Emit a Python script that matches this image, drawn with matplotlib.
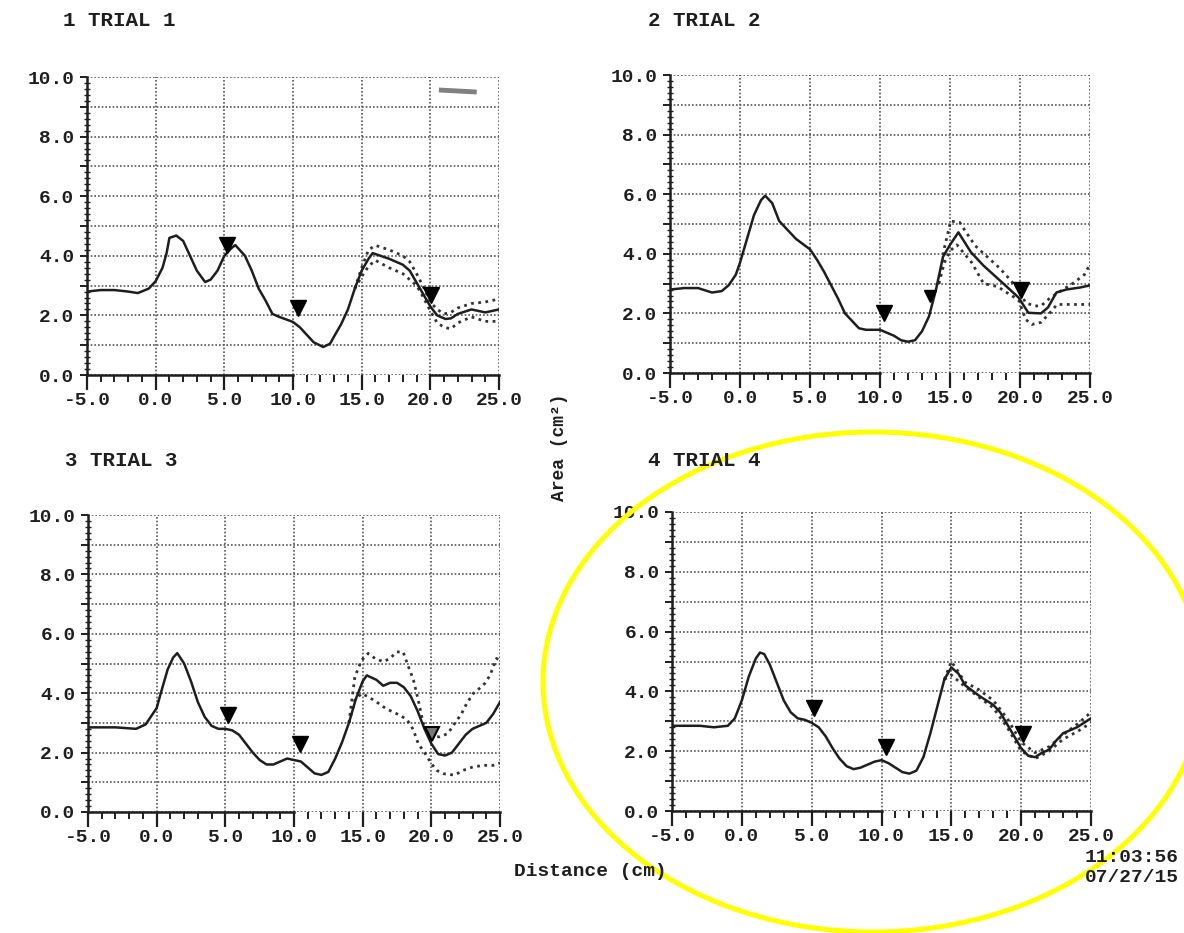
import matplotlib
matplotlib.use("Agg")
import matplotlib.pyplot as plt
from matplotlib.patches import Ellipse
from matplotlib.ticker import MultipleLocator, FuncFormatter
import numpy as np

plt.rcParams['font.family'] = ['Liberation Mono', 'DejaVu Sans Mono']
plt.rcParams['font.weight'] = 'bold'

titles = ['1 TRIAL 1', '2 TRIAL 2', '3 TRIAL 3', '4 TRIAL 4']

# trial 1
x1 = [-5, -4, -3, -2, -1.3, -0.5, 0, 0.5, 0.8, 1.0, 1.5, 2, 2.5, 3, 3.6, 4, 4.5, 5, 5.5, 5.8, 6.5, 7, 7.5,
      8, 8.5, 9, 10, 10.5, 11, 11.5, 12.2, 12.7, 13, 13.5, 14, 14.5, 15, 15.5, 15.8, 17, 18, 18.5, 19, 19.5,
      20, 20.5, 21.1, 21.5, 22, 23, 24, 25]
y1 = [2.8, 2.85, 2.85, 2.8, 2.75, 2.9, 3.15, 3.6, 4.1, 4.6, 4.68, 4.5, 4.0, 3.5, 3.12, 3.2, 3.5, 4.0, 4.25,
      4.36, 4.0, 3.5, 2.9, 2.5, 2.05, 1.95, 1.78, 1.6, 1.35, 1.1, 0.94, 1.05, 1.3, 1.7, 2.2, 2.9, 3.5, 3.9,
      4.09, 3.9, 3.7, 3.5, 3.1, 2.7, 2.3, 2.0, 1.88, 1.9, 2.05, 2.2, 2.1, 2.2]
bx1 = [14.5, 15, 15.5, 16, 17, 18, 18.5, 19, 19.5, 20, 20.5, 21, 21.5, 22, 23, 24, 25]
hi1 = [2.9, 3.6, 4.2, 4.35, 4.2, 4.0, 3.8, 3.4, 2.95, 2.45, 2.2, 2.05, 2.1, 2.25, 2.4, 2.45, 2.55]
lo1 = [2.9, 3.3, 3.65, 3.85, 3.6, 3.4, 3.2, 3.0, 2.6, 2.15, 1.75, 1.6, 1.55, 1.75, 1.95, 1.8, 1.8]
tx1 = [5.19, 10.4, 20.07]
ty1 = [4.37, 2.24, 2.69]

# trial 2
x2 = [-5, -4, -3, -2, -1.3, -0.8, -0.3, 0, 0.5, 1, 1.5, 1.8, 2.3, 2.8, 3.5, 4, 5, 5.5, 6, 6.5, 7, 7.5, 8,
      8.5, 9, 10, 10.5, 11, 11.5, 12, 12.5, 13, 13.5, 14, 14.5, 15, 15.6, 16.5, 17.4, 18.2, 19, 19.9,
      20.6, 21.5, 22, 22.6, 23.3, 24.3, 25]
y2 = [2.8, 2.85, 2.85, 2.7, 2.75, 2.95, 3.3, 3.7, 4.5, 5.3, 5.8, 5.95, 5.7, 5.1, 4.75, 4.5, 4.15, 3.8, 3.4,
      2.95, 2.5, 2.0, 1.75, 1.5, 1.45, 1.45, 1.35, 1.25, 1.1, 1.05, 1.1, 1.4, 1.9, 2.8, 3.9, 4.3, 4.72,
      4.05, 3.6, 3.26, 2.92, 2.53, 2.02, 2.0, 2.2, 2.7, 2.8, 2.87, 2.94]
hx2 = [14.2, 14.6, 15.05, 15.7, 16.0, 16.8, 17.7, 18.5, 19.05, 19.9, 20.4, 21.0, 21.5, 22.1, 22.9, 23.75,
       24.6, 25]
hi2 = [3.0, 4.2, 5.1, 5.05, 4.83, 4.27, 3.88, 3.54, 3.26, 2.8, 2.36, 2.25, 2.25, 2.5, 2.75, 3.0, 3.3, 3.65]
lx2 = [14.2, 14.6, 15.0, 15.5, 16.56, 17.4, 18.4, 19.05, 19.9, 20.4, 20.85, 21.5, 22.1, 22.65, 23.5, 25]
lo2 = [3.0, 3.7, 4.1, 4.3, 3.7, 3.0, 2.9, 2.7, 2.45, 1.8, 1.63, 1.7, 2.0, 2.3, 2.3, 2.3]
tx2 = [10.29, 13.58, 20.1]
ty2 = [2.02, 2.58, 2.79]

# trial 3
x3 = [-5, -3, -1.5, -0.8, 0, 0.3, 0.8, 1.2, 1.5, 2, 2.5, 3, 3.5, 4, 4.5, 5, 5.5, 6, 6.5, 7, 7.5, 8, 8.5, 9,
      9.5, 10, 10.5, 11, 11.5, 12, 12.5, 13, 13.5, 14, 14.5, 15, 15.3, 16, 16.5, 17, 17.5, 18, 18.5, 19,
      19.5, 20, 20.5, 21, 21.5, 22, 22.5, 23, 23.5, 24, 24.5, 25]
y3 = [2.85, 2.85, 2.8, 2.95, 3.5, 4.0, 4.8, 5.2, 5.35, 5.0, 4.4, 3.7, 3.2, 2.9, 2.8, 2.8, 2.75, 2.6, 2.3,
      2.0, 1.75, 1.6, 1.6, 1.7, 1.8, 1.75, 1.7, 1.5, 1.3, 1.25, 1.35, 1.8, 2.35, 3.0, 3.8, 4.4, 4.6, 4.45,
      4.25, 4.35, 4.35, 4.2, 3.9, 3.4, 2.8, 2.3, 1.95, 1.9, 2.0, 2.3, 2.6, 2.8, 2.9, 3.0, 3.3, 3.7]
hx3 = [14.0, 14.43, 14.92, 15.4, 15.9, 16.5, 17.0, 17.47, 17.95, 18.2, 18.7, 19.05, 19.4, 20.1, 20.6, 21.2,
       21.7, 22.2, 22.57, 23.05, 23.5, 23.9, 24.27, 24.75, 25]
hi3 = [3.0, 4.55, 5.11, 5.34, 5.17, 5.06, 5.17, 5.39, 5.39, 5.06, 4.44, 3.76, 3.0, 2.55, 2.53, 2.64, 2.98,
       3.31, 3.65, 3.99, 4.16, 4.33, 4.6, 5.17, 5.1]
lx3 = [14.0, 14.43, 14.92, 15.4, 16.0, 16.7, 17.47, 18.1, 18.44, 18.7, 19.05, 19.55, 20.0, 20.4, 20.87,
       21.7, 22.3, 23.05, 23.8, 24.5, 25]
lo3 = [3.0, 3.76, 3.99, 3.88, 3.71, 3.48, 3.31, 3.15, 2.98, 2.75, 2.3, 1.97, 1.63, 1.4, 1.29, 1.24, 1.4,
       1.52, 1.57, 1.57, 1.65]
tx3 = [5.2, 10.42, 20.07]
ty3 = [3.26, 2.28, 2.64]

# trial 4
x4 = [-5, -3, -2, -1, -0.5, 0, 0.5, 1, 1.3, 1.6, 2, 2.5, 3, 3.5, 4, 4.5, 5, 5.5, 6, 6.5, 7, 7.5, 8, 8.5, 9,
      9.5, 10, 10.5, 11, 11.5, 12, 12.5, 13, 13.5, 14, 14.5, 15, 15.5, 16, 17, 18, 18.5, 19, 19.5, 20,
      20.5, 21, 21.5, 22, 22.5, 23, 24, 25]
y4 = [2.85, 2.85, 2.8, 2.85, 3.1, 3.7, 4.5, 5.1, 5.3, 5.25, 4.9, 4.3, 3.7, 3.3, 3.1, 3.05, 2.95, 2.8, 2.5,
      2.1, 1.75, 1.5, 1.4, 1.45, 1.55, 1.65, 1.7, 1.6, 1.45, 1.3, 1.25, 1.35, 1.8, 2.6, 3.5, 4.4, 4.8, 4.6,
      4.2, 3.85, 3.55, 3.3, 2.9, 2.5, 2.1, 1.85, 1.8, 1.95, 2.05, 2.35, 2.6, 2.8, 3.1]
bx4 = [14.5, 15, 16, 17, 18, 19, 20, 21, 22, 23, 24, 25]
hi4 = [4.4, 5.0, 4.3, 4.05, 3.7, 3.1, 2.3, 1.95, 2.15, 2.55, 2.9, 3.3]
lo4 = [4.4, 4.55, 4.15, 3.8, 3.45, 2.8, 2.0, 1.75, 2.0, 2.4, 2.65, 2.95]
tx4 = [5.17, 10.29, 20.12]
ty4 = [3.44, 2.13, 2.58]

panels = [
    (x1, y1, bx1, hi1, bx1, lo1, tx1, ty1),
    (x2, y2, hx2, hi2, lx2, lo2, tx2, ty2),
    (x3, y3, hx3, hi3, lx3, lo3, tx3, ty3),
    (x4, y4, bx4, hi4, bx4, lo4, tx4, ty4),
]

W, H = 1184, 933
# axes boxes in pixels: left, right, top, bottom
boxes = [(87, 499, 77, 375), (670, 1090, 75, 373), (88, 500, 515, 812), (672, 1091, 512, 811)]
title_pos = [(63, 20), (648, 20), (65, 460), (648, 460)]

fig = plt.figure(figsize=(W / 100, H / 100), dpi=100)
ink = '#1e1e1e'

for i in range(4):
    l, r, t, b = boxes[i]
    ax = fig.add_axes([l / W, 1 - b / H, (r - l) / W, (b - t) / H])
    xs, ys, hx, hy, lx, ly, tx, ty = panels[i]

    ax.plot(hx, hy, color='#333333', ls=(0, (1, 1.6)), lw=2.0)
    ax.plot(lx, ly, color='#333333', ls=(0, (1, 1.6)), lw=2.0)
    ax.plot(xs, ys, color=ink, lw=1.8)
    if i == 1:
        ax.plot(tx[0::2], ty[0::2], 'v', color='black', ms=11)
        ax.plot(tx[1], ty[1], 'v', color='black', ms=8)
    elif i == 2:
        ax.plot(tx[:2], ty[:2], 'v', color='black', ms=11)
        ax.plot(tx[2], ty[2], 'v', mfc='#777777', mec='black', mew=1.5, ms=10)
    else:
        ax.plot(tx, ty, 'v', color='black', ms=11)

    ax.set_xlim(-5, 25)
    ax.set_ylim(0, 10)
    ax.xaxis.set_major_locator(MultipleLocator(5))
    ax.xaxis.set_minor_locator(MultipleLocator(1))
    ax.yaxis.set_major_locator(MultipleLocator(1))
    ax.yaxis.set_minor_locator(MultipleLocator(0.2))
    ax.xaxis.set_major_formatter(FuncFormatter(lambda v, p: '%.1f' % v))
    ax.yaxis.set_major_formatter(FuncFormatter(lambda v, p: '%.1f' % v if int(round(v)) % 2 == 0 else ''))

    ax.grid(True, which='major', color='#555555', ls=(0, (1, 1.2)), lw=1.2)
    ax.yaxis.get_major_ticks()[0].gridline.set_visible(False)

    for s in ['top', 'right', 'bottom']:
        ax.spines[s].set_visible(False)
    ax.spines['left'].set_linewidth(1.8)
    ax.spines['left'].set_color(ink)

    ax.tick_params(axis='x', which='major', direction='out', length=11, width=1.6, pad=1,
                   labelsize=14, colors=ink)
    ax.tick_params(axis='x', which='minor', direction='out', length=5, width=1.4, colors=ink)
    ax.tick_params(axis='y', which='major', direction='out', length=5, width=1.4, pad=4,
                   labelsize=14, colors=ink)
    ax.tick_params(axis='y', which='minor', direction='inout', length=4, width=1.0, colors=ink)

    # bottom axis: solid except between 10 and 20
    ax.plot([-5, 10], [0, 0], color=ink, lw=1.8, clip_on=False)
    ax.plot([20, 25], [0, 0], color=ink, lw=1.8, clip_on=False)
    gap = []
    for tk in ax.xaxis.get_minor_ticks():
        loc = tk.get_loc()
        if 10 < loc < 20 and abs(loc - 15) > 0.1:
            tk.tick1line.set_visible(False)
            gap.append(loc)
    ax.plot(gap, [-0.28] * len(gap), 's', color=ink, ms=2.4, clip_on=False)

    tl = title_pos[i]
    fig.text(tl[0] / W, 1 - tl[1] / H, titles[i], fontsize=15, color=ink, ha='left', va='center')

    if i == 0:
        # scanner smudge in the upper right of trial 1
        ax.plot([20.8, 23.2], [9.56, 9.5], color='#555555', lw=3.5, alpha=0.75)

fig.text(560 / W, 1 - 447 / H, 'Area (cm²)', rotation=90, fontsize=13, color=ink,
         ha='center', va='center')
fig.text(590 / W, 1 - 872 / H, 'Distance (cm)', fontsize=14, color=ink, ha='center', va='center')
fig.text(1179 / W, 1 - 857 / H, '11:03:56', fontsize=14, color=ink, ha='right', va='center')
fig.text(1179 / W, 1 - 878 / H, '07/27/15', fontsize=14, color=ink, ha='right', va='center')

ring = Ellipse((873 / W, 1 - 682 / H), 660 / W, 500 / H, transform=fig.transFigure,
               fill=False, edgecolor='#ffff00', lw=3.6, clip_on=False)
fig.add_artist(ring)

fig.savefig('out.png', dpi=100)
